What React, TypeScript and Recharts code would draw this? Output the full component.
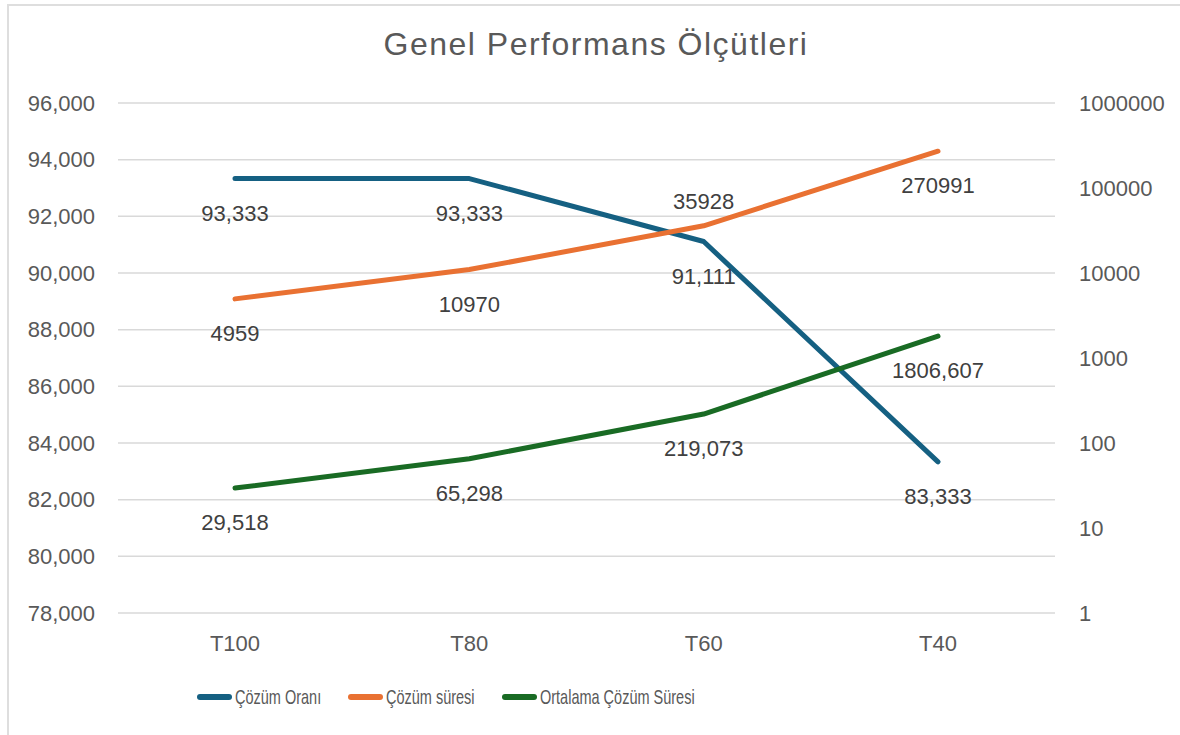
import React from 'react';
import { LineChart, Line, XAxis, YAxis, CartesianGrid, Legend } from 'recharts';

const categories = ['T100', 'T80', 'T60', 'T40'];
const cozumOrani = [93.333, 93.333, 91.111, 83.333];
const cozumSuresi = [4959, 10970, 35928, 270991];
const ortalamaCozumSuresi = [29.518, 65.298, 219.073, 1806.607];
const leftTicks = [78, 80, 82, 84, 86, 88, 90, 92, 94, 96];
const rightTicks = [1, 10, 100, 1000, 10000, 100000, 1000000];
const seriesNames = ['Çözüm Oranı', 'Çözüm süresi', 'Ortalama Çözüm Süresi'];
const labelsAbove = { cozumSuresi: ['T60'] };

const data = categories.map((c, i) => ({
  cat: c,
  oran: cozumOrani[i],
  sure: cozumSuresi[i],
  ort: ortalamaCozumSuresi[i],
}));

const FONT = "'Liberation Sans', Arial, sans-serif";
const BLUE = '#156082';
const ORANGE = '#E97132';
const GREEN = '#196B24';
const seriesColors = [BLUE, ORANGE, GREEN];

const trDec = (v: number) => v.toFixed(3).replace('.', ',');
const intFmt = (v: number) => String(Math.round(v));

const makeLabel = (fmt: (v: number) => string, above: string[] = []) => (props: any) => {
  const { x, y, value, index } = props;
  const isAbove = above.includes(categories[index]);
  const ty = isAbove ? y - 17 : y + 42;
  return (
    <text key={`l-${index}`} x={x} y={ty} textAnchor="middle" fill="#404040" fontSize={22} fontFamily={FONT}>
      {fmt(value)}
    </text>
  );
};

let measureCtx: CanvasRenderingContext2D | null = null;
const measure = (t: string, size: number) => {
  if (!measureCtx) {
    const c = document.createElement('canvas');
    measureCtx = c.getContext('2d');
  }
  if (!measureCtx) return t.length * size * 0.5;
  measureCtx.font = `${size}px ${FONT}`;
  return measureCtx.measureText(t).width;
};

const LEGEND_SIZE = 21;
const SCALE_X = 0.69;

const LegendContent = () => {
  return (
    <div style={{ display: 'flex', alignItems: 'center', height: 30, paddingLeft: 197, fontFamily: FONT }}>
      {seriesNames.map((name, i) => {
        const w = measure(name, LEGEND_SIZE);
        return (
          <div key={i} style={{ display: 'flex', alignItems: 'center', marginRight: 27 }}>
            <div style={{ width: 35, height: 5.5, borderRadius: 3, background: seriesColors[i], marginRight: 3 }} />
            <div style={{ width: w * SCALE_X, height: 30, position: 'relative' }}>
              <span
                style={{
                  position: 'absolute',
                  left: 0,
                  top: 0,
                  lineHeight: '30px',
                  fontSize: LEGEND_SIZE,
                  color: '#595959',
                  whiteSpace: 'nowrap',
                  transform: `scaleX(${SCALE_X})`,
                  transformOrigin: 'left center',
                }}
              >
                {name}
              </span>
            </div>
          </div>
        );
      })}
    </div>
  );
};

export default function App() {
  return (
    <div style={{ position: 'absolute', left: 0, top: 0, width: 1180, height: 735, overflow: 'hidden', background: '#fff' }}>
      <div
        style={{
          position: 'absolute',
          left: 7,
          top: 4,
          width: 1200,
          height: 760,
          border: '2px solid #dedede',
          boxSizing: 'border-box',
        }}
      />
      <div
        style={{
          position: 'absolute',
          left: 596,
          top: 28,
          transform: 'translateX(-50%)',
          fontFamily: FONT,
          fontSize: 32,
          lineHeight: '32px',
          letterSpacing: 1.5,
          color: '#595959',
          whiteSpace: 'nowrap',
        }}
      >
        Genel Performans Ölçütleri
      </div>
      <div style={{ position: 'absolute', left: 0, top: 0 }}>
        <LineChart width={1180} height={735} data={data} margin={{ top: 103, right: 25, bottom: 23, left: 18 }}>
          <CartesianGrid yAxisId="left" vertical={false} stroke="#d9d9d9" strokeWidth={1.5} />
          <XAxis
            dataKey="cat"
            padding={{ left: 117, right: 117 }}
            axisLine={false}
            tickLine={false}
            height={69}
            tickMargin={16}
            tick={{ fill: '#595959', fontSize: 22, fontFamily: FONT }}
          />
          <YAxis
            yAxisId="left"
            orientation="left"
            width={100}
            domain={[78, 96]}
            ticks={leftTicks}
            interval={0}
            allowDataOverflow
            axisLine={false}
            tickLine={false}
            tickMargin={17}
            tickFormatter={trDec}
            tick={{ fill: '#595959', fontSize: 22, fontFamily: FONT }}
          />
          <YAxis
            yAxisId="right"
            orientation="right"
            width={100}
            scale="log"
            domain={[1, 1000000]}
            ticks={rightTicks}
            interval={0}
            allowDataOverflow
            axisLine={false}
            tickLine={false}
            tickMargin={18}
            tickFormatter={intFmt}
            tick={{ fill: '#595959', fontSize: 22, fontFamily: FONT, textAnchor: 'start' }}
          />
          <Legend
            verticalAlign="bottom"
            content={<LegendContent />}
            wrapperStyle={{ left: 0, width: 1180, bottom: 23, height: 30 }}
          />
          <Line
            yAxisId="left"
            type="linear"
            dataKey="oran"
            name={seriesNames[0]}
            stroke={BLUE}
            strokeWidth={5}
            strokeLinecap="round"
            strokeLinejoin="round"
            dot={false}
            isAnimationActive={false}
            label={makeLabel(trDec)}
          />
          <Line
            yAxisId="right"
            type="linear"
            dataKey="sure"
            name={seriesNames[1]}
            stroke={ORANGE}
            strokeWidth={5}
            strokeLinecap="round"
            strokeLinejoin="round"
            dot={false}
            isAnimationActive={false}
            label={makeLabel(intFmt, labelsAbove.cozumSuresi)}
          />
          <Line
            yAxisId="right"
            type="linear"
            dataKey="ort"
            name={seriesNames[2]}
            stroke={GREEN}
            strokeWidth={5}
            strokeLinecap="round"
            strokeLinejoin="round"
            dot={false}
            isAnimationActive={false}
            label={makeLabel(trDec)}
          />
        </LineChart>
      </div>
    </div>
  );
}
